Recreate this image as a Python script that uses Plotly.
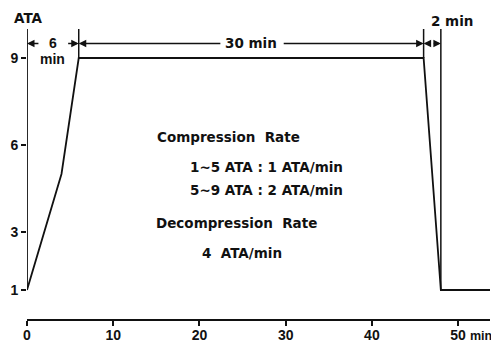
import plotly.graph_objects as go

# Data
time_min = [0, 4, 6, 46, 48, 53.7]
pressure_ata = [1, 5, 9, 9, 1, 1]
x_ticks = [0, 10, 20, 30, 40, 50]
x_ticktext = ["0", "10", "20", "30", "40", "50"]
y_ticks = [1, 3, 6, 9]
y_ticktext = ["1", "3", "6", "9"]

FONT = "Liberation Sans"
FONT2 = "DejaVu Sans"
BLACK = "#111111"

fig = go.Figure()
fig.add_trace(go.Scatter(x=time_min, y=pressure_ata, mode="lines",
                         line=dict(color=BLACK, width=1.8), cliponaxis=False,
                         hoverinfo="skip", showlegend=False))

shapes = [
    dict(type="line", xref="x", yref="y", x0=0, x1=0, y0=1, y1=10,
         line=dict(color=BLACK, width=1.8)),
    dict(type="line", xref="x", yref="y", x0=6, x1=6, y0=9, y1=10,
         line=dict(color=BLACK, width=1.5)),
    dict(type="line", xref="x", yref="y", x0=46, x1=46, y0=9, y1=10,
         line=dict(color=BLACK, width=1.5)),
    dict(type="line", xref="x", yref="y", x0=48, x1=48, y0=1, y1=10,
         line=dict(color=BLACK, width=1.5)),
]

ann = []

def arrow(x_to, x_from, y=9.5):
    ann.append(dict(x=x_to, y=y, ax=x_from, ay=y, xref="x", yref="y",
                    axref="x", ayref="y", showarrow=True, arrowhead=2,
                    arrowsize=1, arrowwidth=1.5, arrowcolor=BLACK, text=""))

arrow(0, 1.5)
arrow(6, 4.6)
arrow(6, 22.6)
arrow(46, 29.6)
arrow(46, 47)
arrow(48, 47)

def txt(x, y, s, size=14, xanchor="center", xref="x", yref="y", family=FONT):
    ann.append(dict(x=x, y=y, xref=xref, yref=yref, text="<b>" + s + "</b>",
                    showarrow=False, xanchor=xanchor, yanchor="middle",
                    font=dict(family=family, size=size, color=BLACK)))

# page-pixel helpers (plot area: x 27..490, y 29..319 on the page)
def py(px_y):
    return (319 - px_y) / 290.0

def px(px_x):
    return (px_x - 27) / 463.0

txt(3.0, 9.52, "6")
txt(3.0, 8.95, "min")
txt(26.0, 9.52, "30 min", size=13.5, family=FONT2)
txt(px(452), py(20.5), "2 min", size=13.5, family=FONT2, xref="paper", yref="paper")
txt(px(28), py(18.5), "ATA", size=13.5, family=FONT2, xref="paper", yref="paper")
txt(px(468), py(336), "min", size=12.5, xanchor="left", xref="paper", yref="paper")

txt(14.8, 6.28, "Compression  Rate", size=13.5, xanchor="left", family=FONT2)
txt(18.7, 5.24, "1~5 ATA : 1 ATA/min", size=13.5, xanchor="left", family=FONT2)
txt(18.7, 4.45, "5~9 ATA : 2 ATA/min", size=13.5, xanchor="left", family=FONT2)
txt(14.7, 3.31, "Decompression  Rate", size=13.5, xanchor="left", family=FONT2)
txt(20.1, 2.28, "4  ATA/min", size=13.5, xanchor="left", family=FONT2)

# The page body has an 8 px margin, so the figure is offset by 8 px;
# size the figure so it fits exactly inside the 499x342 window.
fig.update_layout(
    template="none",
    width=491, height=334,
    margin=dict(l=19, r=9, t=21, b=23, pad=0),
    paper_bgcolor="white", plot_bgcolor="white",
    shapes=shapes, annotations=ann,
    font=dict(family=FONT, size=14, color=BLACK),
    xaxis=dict(range=[0, 53.7], showgrid=False, zeroline=False, automargin=False,
               showline=True, linecolor=BLACK, linewidth=1.8,
               ticks="outside", ticklen=5, tickwidth=1.6, tickcolor=BLACK,
               ticklabelstandoff=-3,
               tickvals=x_ticks, ticktext=["<b>%s</b>" % t for t in x_ticktext],
               tickfont=dict(family=FONT, size=14, color=BLACK)),
    yaxis=dict(range=[0, 10], showgrid=False, zeroline=False, automargin=False,
               showline=False, ticks="outside", ticklen=5, tickwidth=1.6,
               tickcolor=BLACK, tickvals=y_ticks,
               ticktext=["<b>%s</b>" % t for t in y_ticktext],
               tickfont=dict(family=FONT, size=14, color=BLACK)),
)

fig.write_html("out.html")
